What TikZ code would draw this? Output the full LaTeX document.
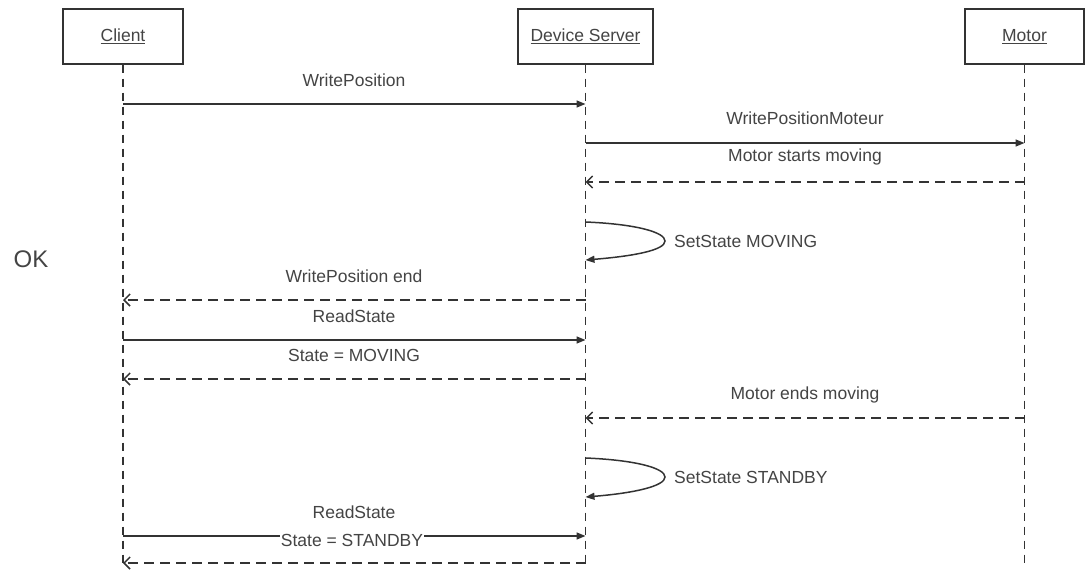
\documentclass[tikz,border=0pt]{standalone}
\usepackage{fontspec}
\setmainfont{Liberation Sans}
\usetikzlibrary{arrows.meta}
\definecolor{ink}{HTML}{333333}
\definecolor{txt}{HTML}{444444}
\tikzset{
  x=1pt, y=-1pt,
  every node/.style={font=\fontsize{17.5}{21}\selectfont, text=txt},
  actor/.style={draw=ink, line width=1.4pt, fill=white, minimum height=55pt, inner sep=0pt},
  lifeline/.style={draw=ink, line width=1.5pt, dash pattern=on 8pt off 6pt},
  call/.style={draw=ink, line width=1.5pt, -{Triangle[length=9pt,width=7pt]}},
  reply/.style={draw=ink, line width=1.5pt, dash pattern=on 10pt off 6pt, -{Straight Barb[length=6pt,width=12pt]}},
  lbl/.style={inner sep=1pt},
}
\begin{document}
\begin{tikzpicture}
\useasboundingbox (0,0) rectangle (1086,578);

% participants
\node[actor, minimum width=120pt] (client) at (123,36.5) {\underline{Client}};
\node[actor, minimum width=135pt] (server) at (585.5,36.5) {\underline{Device Server}};
\node[actor, minimum width=119pt] (motor)  at (1024.5,36.5) {\underline{Motor}};

% lifelines
\coordinate (cEnd) at (client |- 0,566);
\coordinate (sEnd) at (server |- 0,566);
\coordinate (mEnd) at (motor |- 0,566);
\draw[lifeline] (client.south) -- (cEnd);
\draw[lifeline] (server.south) -- (sEnd);
\draw[lifeline] (motor.south) -- (mEnd);

% side note
\node[font=\fontsize{24}{28}\selectfont] (ok) at (31,259) {OK};

% messages
\draw[call] (client |- 0,104) -- (server |- 0,104);
\node[lbl] (l1) at (354,80) {WritePosition};

\draw[call] (server |- 0,143) -- (motor |- 0,143);
\node[lbl] (l2) at (805,118) {WritePositionMoteur};

\draw[reply] (motor |- 0,182) -- (server |- 0,182);
\node[lbl] (l3) at (805,157) {Motor starts moving};

% self call: server sets its own state
\coordinate (tip1) at (665,241);
\draw[call] (server |- 0,222) .. controls (635,224) and (665,232) .. (tip1)
            .. controls (665,250) and (635,256) .. (server |- 0,260);
\node[lbl, anchor=west] (l4) at (673,241) {SetState MOVING};

\draw[reply] (server |- 0,300) -- (client |- 0,300);
\node[lbl] (l5) at (354,276) {WritePosition end};

\draw[call] (client |- 0,340) -- (server |- 0,340);
\node[lbl] (l6) at (354,316) {ReadState};

\draw[reply] (server |- 0,379) -- (client |- 0,379);
\node[lbl] (l7) at (354,355) {State = MOVING};

\draw[reply] (motor |- 0,418) -- (server |- 0,418);
\node[lbl] (l8) at (805,395) {Motor ends moving};

\coordinate (tip2) at (665,477);
\draw[call] (server |- 0,458) .. controls (635,460) and (665,468) .. (tip2)
            .. controls (665,486) and (635,493) .. (server |- 0,497);
\node[lbl, anchor=west] (l9) at (673,477) {SetState STANDBY};

\draw[call] (client |- 0,536) -- (server |- 0,536);
\node[lbl] (l10) at (354,512) {ReadState};
\node[lbl, fill=white, inner sep=0.5pt] (l11) at (352,540) {State = STANDBY};

\draw[reply] (server |- 0,563) -- (client |- 0,563);
\end{tikzpicture}
\end{document}
